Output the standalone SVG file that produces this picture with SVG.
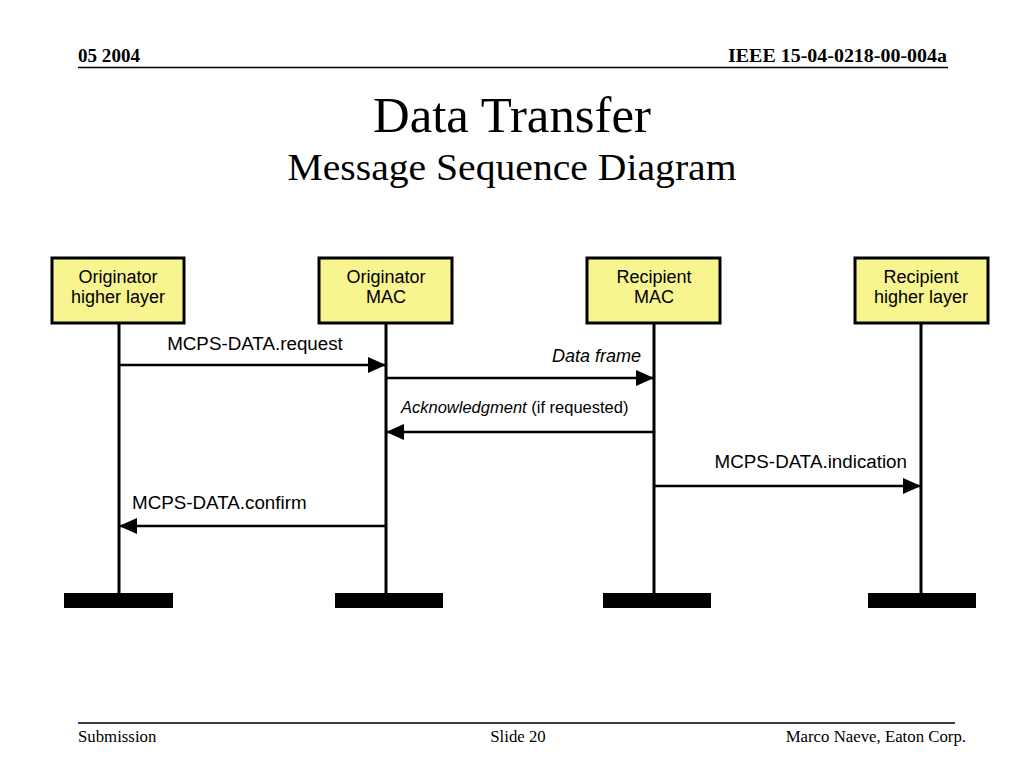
<svg xmlns="http://www.w3.org/2000/svg" width="1024" height="768" viewBox="0 0 1024 768">
<style>
.serif{font-family:"Liberation Serif","Times New Roman",serif;fill:#000}
.hdr{font-size:18px;font-weight:bold}
.ftr{font-size:16.8px}
.sans{font-family:"Liberation Sans",Arial,sans-serif;font-size:18px;fill:#000}
.lbl{font-size:18.8px}
.small{font-size:16.5px}
.box{fill:#F8F490;stroke:#000;stroke-width:3}
.life{stroke:#000;stroke-width:3;fill:none}
.msg{stroke:#000;stroke-width:2.5;fill:none}
.bar{fill:#000}
</style>
<defs>
<marker id="ah" markerUnits="userSpaceOnUse" markerWidth="18" markerHeight="16" refX="18" refY="8" orient="auto">
<path d="M0,0 L18,8 L0,16 Z" fill="#000"/>
</marker>
</defs>
<rect width="1024" height="768" fill="#fff"/>

<g id="header">
<text class="serif hdr" x="78" y="62" textLength="62" lengthAdjust="spacingAndGlyphs">05 2004</text>
<text class="serif hdr" x="947" y="62" text-anchor="end" textLength="219" lengthAdjust="spacingAndGlyphs">IEEE 15-04-0218-00-004a</text>
<line x1="78" y1="67.5" x2="948" y2="67.5" stroke="#000" stroke-width="1.5"/>
</g>

<g id="title">
<text class="serif" x="512" y="132" text-anchor="middle" style="font-size:50px" textLength="278" lengthAdjust="spacingAndGlyphs">Data Transfer</text>
<text class="serif" x="512" y="180" text-anchor="middle" style="font-size:38px" textLength="449" lengthAdjust="spacingAndGlyphs">Message Sequence Diagram</text>
</g>

<g id="node-orig-hl">
<rect class="box" x="52" y="258" width="132" height="65"/>
<text class="sans" x="118" y="283" text-anchor="middle">Originator</text>
<text class="sans" x="118" y="303" text-anchor="middle">higher layer</text>
<line class="life" x1="119" y1="323" x2="119" y2="593"/>
<rect class="bar" x="64" y="593" width="109" height="15"/>
</g>

<g id="node-orig-mac">
<rect class="box" x="319" y="258" width="133" height="65"/>
<text class="sans" x="386" y="283" text-anchor="middle">Originator</text>
<text class="sans" x="386" y="303" text-anchor="middle">MAC</text>
<line class="life" x1="386" y1="323" x2="386" y2="593"/>
<rect class="bar" x="335" y="593" width="108" height="15"/>
</g>

<g id="node-recip-mac">
<rect class="box" x="587" y="258" width="133" height="65"/>
<text class="sans" x="654" y="283" text-anchor="middle">Recipient</text>
<text class="sans" x="654" y="303" text-anchor="middle">MAC</text>
<line class="life" x1="654" y1="323" x2="654" y2="593"/>
<rect class="bar" x="603" y="593" width="108" height="15"/>
</g>

<g id="node-recip-hl">
<rect class="box" x="855" y="258" width="133" height="65"/>
<text class="sans" x="921" y="283" text-anchor="middle">Recipient</text>
<text class="sans" x="921" y="303" text-anchor="middle">higher layer</text>
<line class="life" x1="921" y1="323" x2="921" y2="593"/>
<rect class="bar" x="868" y="593" width="108" height="15"/>
</g>

<g id="connectors">
<line class="msg" x1="119" y1="365" x2="386" y2="365" marker-end="url(#ah)"/>
<text class="sans lbl" x="255" y="350" text-anchor="middle">MCPS-DATA.request</text>

<line class="msg" x1="386" y1="378" x2="654" y2="378" marker-end="url(#ah)"/>
<text class="sans" x="641" y="362" text-anchor="end" font-style="italic">Data frame</text>

<line class="msg" x1="654" y1="432" x2="386" y2="432" marker-end="url(#ah)"/>
<text class="sans small" x="401" y="413"><tspan font-style="italic">Acknowledgment</tspan> (if requested)</text>

<line class="msg" x1="654" y1="486" x2="921" y2="486" marker-end="url(#ah)"/>
<text class="sans lbl" x="907" y="468" text-anchor="end">MCPS-DATA.indication</text>

<line class="msg" x1="386" y1="526" x2="119" y2="526" marker-end="url(#ah)"/>
<text class="sans lbl" x="132" y="509">MCPS-DATA.confirm</text>
</g>

<g id="footer">
<line x1="78" y1="723" x2="955" y2="723" stroke="#000" stroke-width="1.5"/>
<text class="serif ftr" x="78" y="742">Submission</text>
<text class="serif ftr" x="518" y="742" text-anchor="middle">Slide 20</text>
<text class="serif ftr" x="966" y="742" text-anchor="end">Marco Naeve, Eaton Corp.</text>
</g>
</svg>
